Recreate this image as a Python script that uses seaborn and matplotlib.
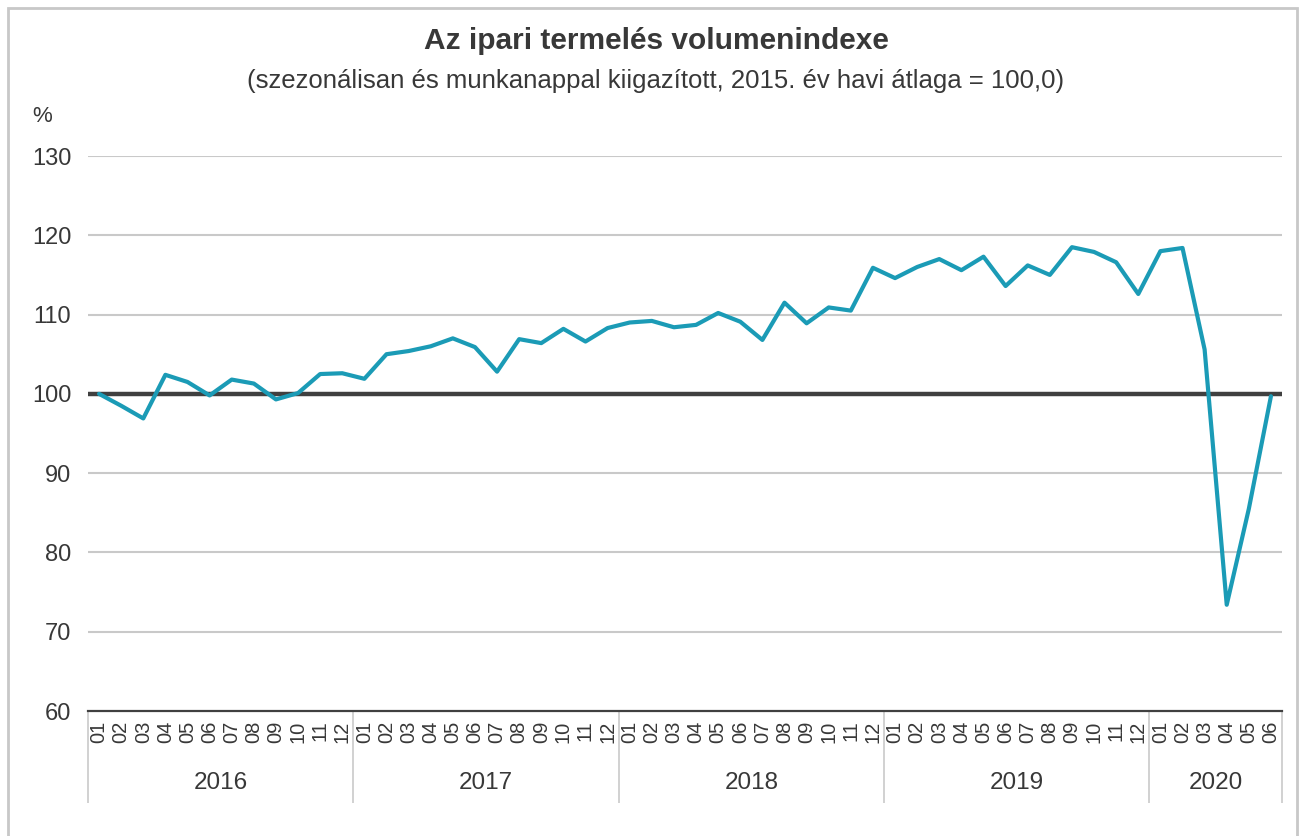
import matplotlib
matplotlib.use("Agg")
import matplotlib.pyplot as plt
from matplotlib.patches import Rectangle
import seaborn as sns
import pandas as pd

# ---- data ----
years = ["2016", "2017", "2018", "2019", "2020"]
months = ["01", "02", "03", "04", "05", "06", "07", "08", "09", "10", "11", "12"]
values_2016 = [100.0, 98.5, 96.9, 102.4, 101.5, 99.8, 101.8, 101.3, 99.3, 100.1, 102.5, 102.6]
values_2017 = [101.9, 105.0, 105.4, 106.0, 107.0, 105.9, 102.8, 106.9, 106.4, 108.2, 106.6, 108.3]
values_2018 = [109.0, 109.2, 108.4, 108.7, 110.2, 109.1, 106.8, 111.5, 108.9, 110.9, 110.5, 115.9]
values_2019 = [114.6, 116.0, 117.0, 115.6, 117.3, 113.6, 116.2, 115.0, 118.5, 117.9, 116.6, 112.6]
values_2020 = [118.0, 118.4, 105.6, 73.4, 85.5, 99.7]
y_ticks = [60, 70, 80, 90, 100, 110, 120, 130]
reference_value = 100
title = "Az ipari termelés volumenindexe"
subtitle = "(szezonálisan és munkanappal kiigazított, 2015. év havi átlaga = 100,0)"
unit_label = "%"

series = [values_2016, values_2017, values_2018, values_2019, values_2020]
rows = []
for yr, vals in zip(years, series):
    for m, v in zip(months, vals):
        rows.append({"period": f"{yr}-{m}", "year": yr, "month": m, "value": v})
df = pd.DataFrame(rows)

# ---- style ----
sns.set_theme(style="white")
plt.rcParams["font.family"] = ["Liberation Sans", "DejaVu Sans"]
TXT = "#383838"
LINE = "#1b9bb6"
GRID = "#c9c9c9"
DARK = "#404040"

W, H = 1303, 836
fig = plt.figure(figsize=(W / 100, H / 100), dpi=100)
ax = fig.add_axes([88 / W, 1 - 711 / H, (1282 - 88) / W, (711 - 156) / H])

n = len(df)
ax.set_xlim(-0.5, n - 0.5)
ax.set_ylim(60, 130)

# grid
for yv in y_ticks[1:]:
    if yv == reference_value:
        continue
    ax.axhline(yv, color=GRID, lw=1.5, zorder=1)
ax.axhline(reference_value, color=DARK, lw=3.2, zorder=2)

sns.lineplot(data=df, x="period", y="value", ax=ax, color=LINE, lw=3.0,
             sort=False, zorder=3)

for s in ["top", "right", "left"]:
    ax.spines[s].set_visible(False)
ax.spines["bottom"].set_color(DARK)
ax.spines["bottom"].set_linewidth(1.6)

ax.set_xlabel("")
ax.set_ylabel("")

# y ticks
ax.set_yticks(y_ticks)
ax.set_yticklabels([str(v) for v in y_ticks], fontsize=17, color=TXT)
ax.tick_params(axis="y", length=0, pad=12)

# month ticks
ax.set_xticks(range(n))
ax.set_xticklabels(df["month"].tolist(), rotation=90, fontsize=14.5, color=TXT)
ax.tick_params(axis="x", which="major", length=0, pad=7)
ax.set_xticks([i - 0.5 for i in range(n + 1)], minor=True)
ax.tick_params(axis="x", which="minor", length=33, width=1.2, color=GRID,
               direction="out")

# year axis
sec = ax.secondary_xaxis("bottom")
counts = df.groupby("year", sort=False).size().tolist()
bounds = [-0.5]
for c in counts:
    bounds.append(bounds[-1] + c)
centers = [(bounds[i] + bounds[i + 1]) / 2 for i in range(len(counts))]
sec.set_xticks(bounds)
sec.set_xticklabels([""] * len(bounds))
sec.tick_params(axis="x", which="major", length=66, width=1.2, color=GRID)
sec.set_xticks(centers, minor=True)
sec.set_xticklabels(years, minor=True, fontsize=17.5, color=TXT)
sec.tick_params(axis="x", which="minor", length=0, pad=44)
sec.spines["bottom"].set_visible(False)

# texts
fig.text(656 / W, 1 - 41 / H, title, ha="center", va="center",
         fontsize=21.5, fontweight="bold", color=TXT)
fig.text(656 / W, 1 - 81 / H, subtitle, ha="center", va="center",
         fontsize=18.5, color=TXT)
fig.text(32 / W, 1 - 117 / H, unit_label, ha="left", va="center",
         fontsize=16, color=TXT)

# frame
fig.patches.append(Rectangle((8 / W, -0.05), (1297 - 8) / W, 1.05 - 8 / H,
                             transform=fig.transFigure, fill=False,
                             edgecolor="#c8c8c8", lw=2))

fig.savefig("out.png", dpi=100)
